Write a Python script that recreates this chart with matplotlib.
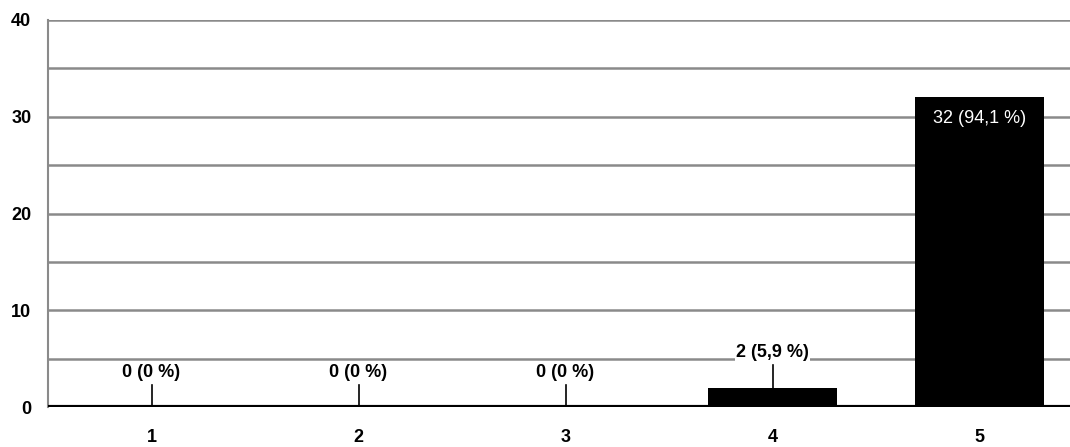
import matplotlib
matplotlib.use("Agg")
import matplotlib.pyplot as plt
from matplotlib import font_manager

categories = ["1", "2", "3", "4", "5"]
counts = [0, 0, 0, 2, 32]
labels = ["0 (0 %)", "0 (0 %)", "0 (0 %)", "2 (5,9 %)", "32 (94,1 %)"]
yticks = [0, 10, 20, 30, 40]

names = {f.name for f in font_manager.fontManager.ttflist}
fam = ["Liberation Sans Narrow", "DejaVu Sans"] if "Liberation Sans Narrow" in names else ["Liberation Sans", "DejaVu Sans"]
plt.rcParams['font.family'] = fam

fig = plt.figure(figsize=(10.7, 4.47), dpi=100)
ax = fig.add_axes([48/1070, 40/447, 1035/1070, 387/447])

x = list(range(1, len(categories) + 1))
ax.set_xlim(0.5, 5.5)
ax.set_ylim(0, 40)

for y in range(5, 41, 5):
    ax.axhline(y, color="#8a8a8a", lw=1.8, zorder=0)

ax.bar(x, counts, width=0.62, color="black", zorder=2)

for xi, v, lab in zip(x, counts, labels):
    if v > 20:
        ax.text(xi, v - 2.2, lab, ha="center", va="center", color="white",
                fontsize=13, zorder=4)
    else:
        ax.plot([xi, xi], [v, v + 2.3], color="black", lw=1.2, zorder=3)
        ax.text(xi, v + 3.6, lab, ha="center", va="center", color="black",
                fontsize=13, fontweight="bold", zorder=4,
                bbox=dict(facecolor="white", edgecolor="none", pad=1))

ax.axhline(0, color="black", lw=3, zorder=5)
ax.spines["top"].set_visible(False)
ax.spines["right"].set_visible(False)
ax.spines["bottom"].set_visible(False)
ax.spines["left"].set_color("#8a8a8a")
ax.spines["left"].set_linewidth(1.5)

ax.set_xticks(x)
ax.set_xticklabels(categories, fontsize=13, fontweight="bold")
ax.set_yticks(yticks)
ax.set_yticklabels([str(t) for t in yticks], fontsize=13, fontweight="bold")
ax.tick_params(axis="both", length=0)
ax.tick_params(axis="x", pad=16)
ax.tick_params(axis="y", pad=12)

fig.savefig("out.png", dpi=100)
